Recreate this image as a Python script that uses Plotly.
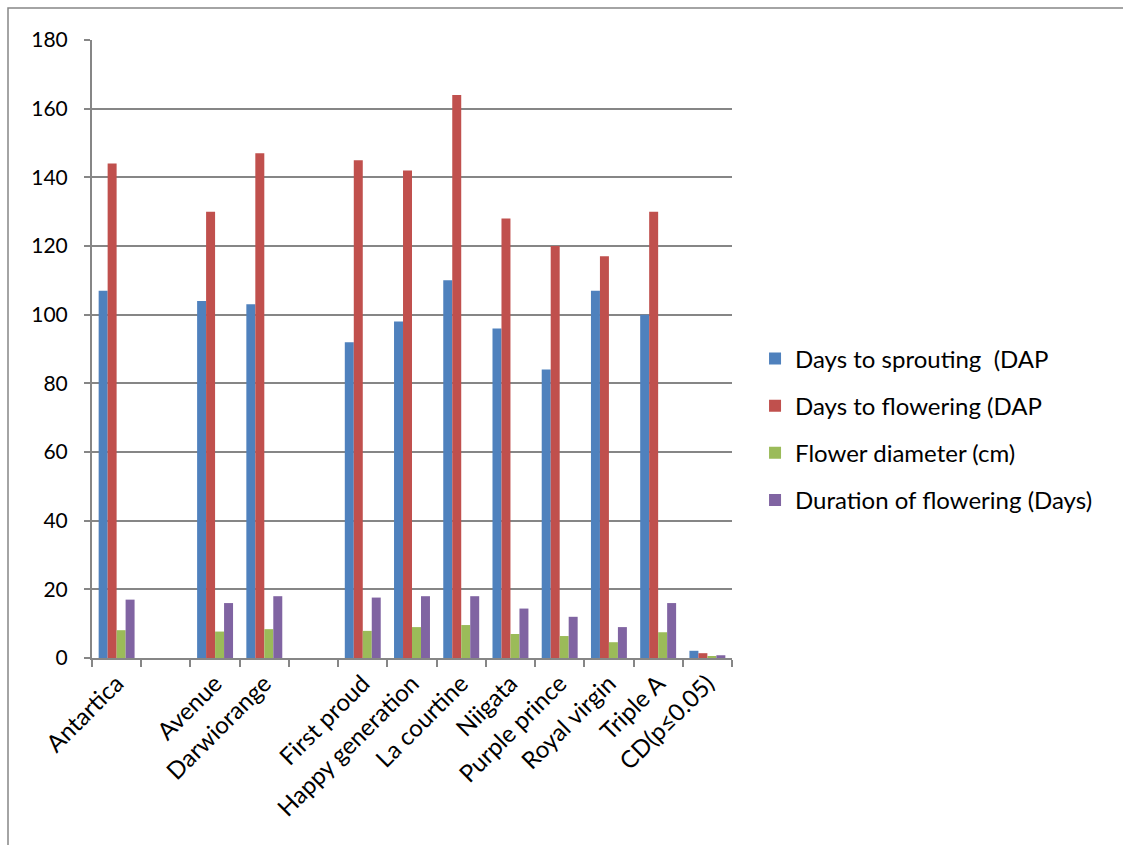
import plotly.graph_objects as go

# Tulip cultivars (two blank slots kept as gaps in the category axis)
cultivars = ["Antartica", " ", "Avenue", "Darwiorange", "  ", "First proud",
             "Happy generation", "La courtine", "Niigata", "Purple prince",
             "Royal virgin", "Triple A", "CD(p≤0.05)"]

days_to_sprouting = [107, None, 104, 103, None, 92, 98, 110, 96, 84, 107, 100, 2.1]
days_to_flowering = [144, None, 130, 147, None, 145, 142, 164, 128, 120, 117, 130, 1.4]
flower_diameter = [8.1, None, 7.7, 8.4, None, 7.9, 9.0, 9.6, 7.0, 6.4, 4.6, 7.5, 0.5]
duration_of_flowering = [17, None, 16, 18, None, 17.6, 18, 18, 14.4, 12, 9, 16, 0.8]

series = [
    ("Days to sprouting  (DAP", days_to_sprouting, "#4F81BD"),
    ("Days to flowering (DAP", days_to_flowering, "#C0504D"),
    ("Flower diameter (cm)", flower_diameter, "#9BBB59"),
    ("Duration of flowering (Days)", duration_of_flowering, "#8064A2"),
]

FONT = "Lato"
GRID = "#868686"

fig = go.Figure()
for i, (name, vals, color) in enumerate(series):
    fig.add_trace(go.Bar(
        name=name, x=cultivars, y=vals,
        marker=dict(color=color, line=dict(width=0)),
        legendgroup=f"g{i}",
    ))

fig.update_layout(
    width=1123, height=845,
    margin=dict(l=92, r=391, t=40, b=187),
    paper_bgcolor="white", plot_bgcolor="white",
    barmode="group", bargap=0.27, bargroupgap=0,
    font=dict(family=FONT, size=24, color="#000000"),
    showlegend=True,
    legend=dict(
        x=1.036, y=0.37, xanchor="left", yanchor="middle",
        font=dict(family=FONT, size=24, color="#000000"),
        traceorder="grouped", tracegroupgap=13,
        itemwidth=30, bgcolor="rgba(0,0,0,0)",
    ),
    xaxis=dict(
        type="category", tickson="boundaries",
        ticks="outside", ticklen=7, tickcolor=GRID, tickwidth=1.5,
        showline=True, linecolor=GRID, linewidth=2,
        showgrid=False, tickangle=-45,
        tickfont=dict(family=FONT, size=24, color="#000000"),
    ),
    yaxis=dict(
        range=[0, 180], dtick=20, tick0=0,
        ticks="outside", ticklen=6, tickcolor=GRID, tickwidth=1.5,
        showline=True, linecolor=GRID, linewidth=2,
        showgrid=True, gridcolor=GRID, gridwidth=2,
        zeroline=False, ticklabelstandoff=12,
        tickfont=dict(family=FONT, size=21, color="#000000"),
    ),
    shapes=[dict(
        type="rect", xref="paper", yref="paper",
        x0=-0.13125, x1=1.65, y0=-0.32, y1=1.0518,
        line=dict(color=GRID, width=1.5), fillcolor="rgba(0,0,0,0)", layer="below",
    )],
)

fig.write_html("out.html")
